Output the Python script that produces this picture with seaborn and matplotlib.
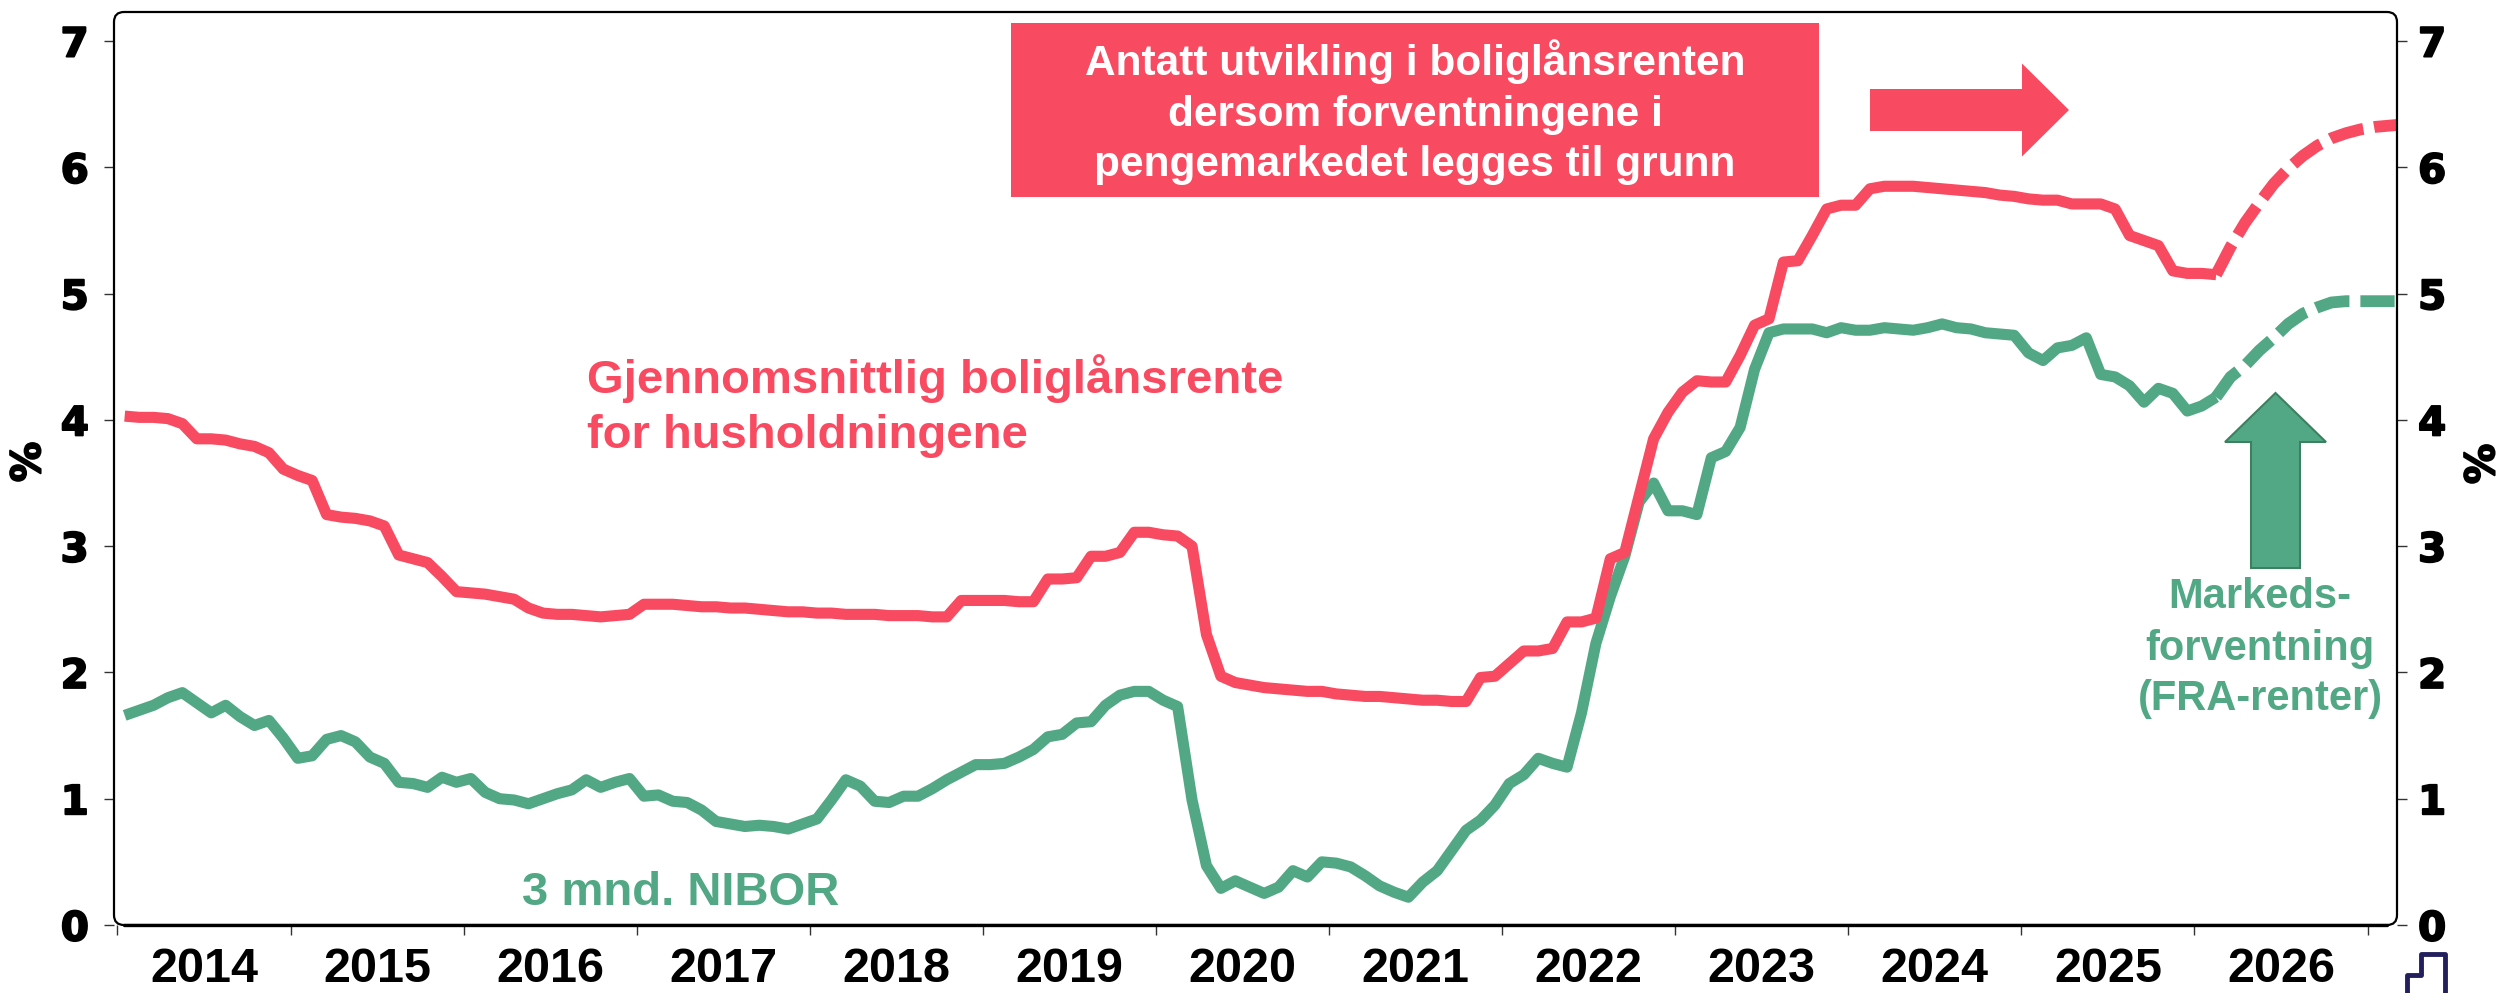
import numpy as np
import pandas as pd
import seaborn as sns
import matplotlib.pyplot as plt
import matplotlib.patheffects as pe
from matplotlib.patches import FancyArrow, FancyBboxPatch, Rectangle
from matplotlib.lines import Line2D

# Monthly observations, Jan 2014 - Feb 2026
boliglansrente = [
    4.03, 4.02, 4.02, 4.01, 3.97, 3.85, 3.85, 3.84, 3.81, 3.79, 3.74, 3.61,
    3.56, 3.52, 3.25, 3.23, 3.22, 3.20, 3.16, 2.93, 2.90, 2.87, 2.76, 2.64,
    2.63, 2.62, 2.60, 2.58, 2.51, 2.47, 2.46, 2.46, 2.45, 2.44, 2.45, 2.46,
    2.54, 2.54, 2.54, 2.53, 2.52, 2.52, 2.51, 2.51, 2.50, 2.49, 2.48, 2.48,
    2.47, 2.47, 2.46, 2.46, 2.46, 2.45, 2.45, 2.45, 2.44, 2.44, 2.57, 2.57,
    2.57, 2.57, 2.56, 2.56, 2.74, 2.74, 2.75, 2.92, 2.92, 2.95, 3.11, 3.11,
    3.09, 3.08, 3.00, 2.30, 1.97, 1.92, 1.90, 1.88, 1.87, 1.86, 1.85, 1.85,
    1.83, 1.82, 1.81, 1.81, 1.80, 1.79, 1.78, 1.78, 1.77, 1.77, 1.96, 1.97,
    2.07, 2.17, 2.17, 2.19, 2.40, 2.40, 2.43, 2.90, 2.95, 3.40, 3.85, 4.06,
    4.22, 4.31, 4.30, 4.30, 4.51, 4.75, 4.80, 5.25, 5.26, 5.46, 5.67, 5.70,
    5.70, 5.83, 5.85, 5.85, 5.85, 5.84, 5.83, 5.82, 5.81, 5.80, 5.78, 5.77,
    5.75, 5.74, 5.74, 5.71, 5.71, 5.71, 5.67, 5.46, 5.42, 5.38, 5.18, 5.16,
    5.16, 5.15,
]
nibor_3m = [
    1.66, 1.70, 1.74, 1.80, 1.84, 1.76, 1.68, 1.74, 1.65, 1.58, 1.62, 1.48,
    1.32, 1.34, 1.47, 1.50, 1.45, 1.33, 1.28, 1.13, 1.12, 1.09, 1.17, 1.13,
    1.16, 1.05, 1.00, 0.99, 0.96, 1.00, 1.04, 1.07, 1.15, 1.09, 1.13, 1.16,
    1.02, 1.03, 0.98, 0.97, 0.91, 0.82, 0.80, 0.78, 0.79, 0.78, 0.76, 0.80,
    0.84, 0.99, 1.15, 1.10, 0.98, 0.97, 1.02, 1.02, 1.08, 1.15, 1.21, 1.27,
    1.27, 1.28, 1.33, 1.39, 1.49, 1.51, 1.60, 1.61, 1.74, 1.82, 1.85, 1.85,
    1.78, 1.73, 0.99, 0.47, 0.29, 0.35, 0.30, 0.25, 0.30, 0.43, 0.38, 0.50,
    0.49, 0.46, 0.39, 0.31, 0.26, 0.22, 0.34, 0.43, 0.59, 0.75, 0.83, 0.95,
    1.12, 1.19, 1.32, 1.28, 1.25, 1.68, 2.23, 2.60, 2.92, 3.35, 3.50, 3.28,
    3.28, 3.25, 3.70, 3.75, 3.94, 4.40, 4.69, 4.72, 4.72, 4.72, 4.69, 4.73,
    4.71, 4.71, 4.73, 4.72, 4.71, 4.73, 4.76, 4.73, 4.72, 4.69, 4.68, 4.67,
    4.53, 4.47, 4.57, 4.59, 4.65, 4.36, 4.34, 4.27, 4.14, 4.25, 4.21, 4.07,
    4.11, 4.18,
]

# Market-implied paths (FRA), from Feb 2026
boliglansrente_fc = [5.15, 5.37, 5.56, 5.72, 5.87, 5.99, 6.09, 6.17, 6.23, 6.27, 6.30, 6.32, 6.33, 6.34]
nibor_fc = [4.18, 4.34, 4.43, 4.55, 4.65, 4.76, 4.84, 4.89, 4.93, 4.94, 4.94, 4.94, 4.94, 4.94]

years = list(range(2014, 2028))
year_labels = [str(y) for y in years[:-1]]

RED = "#F84A60"
GREEN = "#52A885"


def month_pos(start, n):
    # monthly values are placed mid-month on a decimal-year axis
    d = pd.date_range(start, periods=n, freq="MS")
    return d.year + (d.month - 0.5) / 12


hist = pd.DataFrame({"x": month_pos("2014-01-01", len(boliglansrente)),
                     "rente": boliglansrente, "nibor": nibor_3m})
fc = pd.DataFrame({"x": month_pos("2026-02-01", len(boliglansrente_fc)),
                   "rente": boliglansrente_fc, "nibor": nibor_fc})

sns.set_theme(style="white")
plt.rcParams["font.family"] = ["Liberation Sans", "DejaVu Sans"]
plt.rcParams["text.color"] = "black"
plt.rcParams["xtick.color"] = "black"
plt.rcParams["ytick.color"] = "black"

W, H = 2499, 993
L, R, T, B = 114, 2397, 12, 925
fig = plt.figure(figsize=(W / 100, H / 100), dpi=100)
ax = fig.add_axes([L / W, 1 - B / H, (R - L) / W, (B - T) / H])
inch = fig.dpi_scale_trans
heavy = [pe.withStroke(linewidth=1.4, foreground="black")]


def px(x, y):
    return x / 100, (H - y) / 100


# lines
sns.lineplot(data=hist, x="x", y="nibor", ax=ax, color=GREEN, linewidth=8,
             estimator=None, sort=False, solid_capstyle="butt")
sns.lineplot(data=hist, x="x", y="rente", ax=ax, color=RED, linewidth=8,
             estimator=None, sort=False, solid_capstyle="butt")
sns.lineplot(data=fc, x="x", y="nibor", ax=ax, color=GREEN, linewidth=8.5,
             estimator=None, sort=False, linestyle=(0, (2.9, 0.93)), dash_capstyle="butt")
sns.lineplot(data=fc, x="x", y="rente", ax=ax, color=RED, linewidth=8.5,
             estimator=None, sort=False, linestyle=(0, (2.9, 0.93)), dash_capstyle="butt")

ax.set_xlim(2013.98, 2027.17)
ax.set_ylim(0, 7.23)
ax.set_xlabel("")
ax.set_ylabel("")
for s in ax.spines.values():
    s.set_visible(False)

# x axis: ticks at year boundaries, labels mid-year
ax.set_xticks(years)
ax.set_xticklabels([])
ax.set_xticks([y + 0.5 for y in years[:-1]], minor=True)
ax.set_xticklabels(year_labels, minor=True, fontsize=35, fontweight="bold")
ax.tick_params(axis="x", which="major", bottom=True, direction="out",
               length=7.2, width=1, color="#333333")
ax.tick_params(axis="x", which="minor", bottom=True, length=0, pad=16, labelcolor="black")

ax.set_yticks(range(8))
ax.set_yticklabels([str(v) for v in range(8)], fontsize=29, fontweight="bold",
                   fontfamily="DejaVu Sans", path_effects=heavy)
ax.tick_params(axis="y", left=True, direction="out", length=7.2, width=1,
               color="#333333", pad=11, labelcolor="black")

ax2 = ax.twinx()
ax2.set_ylim(ax.get_ylim())
ax2.set_yticks(range(8))
ax2.set_yticklabels([str(v) for v in range(8)], fontsize=29, fontweight="bold",
                    fontfamily="DejaVu Sans", path_effects=heavy)
ax2.tick_params(axis="y", right=True, direction="out", length=7.2, width=1,
                color="#333333", pad=8, labelcolor="black")
for s in ax2.spines.values():
    s.set_visible(False)

# rounded plot frame
fig.add_artist(FancyBboxPatch(px(L, B), (R - L) / 100, (B - T) / 100,
                              boxstyle="round,pad=0,rounding_size=0.1",
                              transform=inch, fill=False, lw=1.6, ec="black", zorder=5))
fig.add_artist(Line2D([(L + 10) / 100, (R - 10) / 100], [(H - B) / 100] * 2,
                      transform=inch, color="black", lw=2.4, zorder=5))

fig.text(*px(29, 462), "%", transform=inch, rotation=90, ha="center", va="center",
         fontsize=29, fontweight="bold", family="DejaVu Sans", color="black",
         path_effects=heavy)
fig.text(*px(2483, 464), "%", transform=inch, rotation=90, ha="center", va="center",
         fontsize=29, fontweight="bold", family="DejaVu Sans", color="black",
         path_effects=heavy)

# forecast box + arrow
fig.add_artist(Rectangle(px(1011, 197), 8.08, 1.74, transform=inch, color=RED, lw=0))
for txt, yb in [("Antatt utvikling i boliglånsrenten", 75),
                ("dersom forventningene i", 126),
                ("pengemarkedet legges til grunn", 176)]:
    fig.text(*px(1415, yb), txt, transform=inch, ha="center", va="baseline",
             color="white", fontsize=30.5, fontweight="bold")

fig.add_artist(FancyArrow(*px(1870, 110), 1.99, 0, width=0.42, head_width=0.93,
                          head_length=0.47, length_includes_head=True,
                          transform=inch, color=RED, lw=0))
fig.add_artist(FancyArrow(*px(2275.5, 568), 0, 1.75, width=0.49, head_width=1.01,
                          head_length=0.49, length_includes_head=True,
                          transform=inch, fc=GREEN, ec="#3D8060", lw=1.5))

# series labels
for txt, yb in [("Gjennomsnittlig boliglånsrente", 393), ("for husholdningene", 448)]:
    fig.text(*px(587, yb), txt, transform=inch, ha="left", va="baseline",
             color=RED, fontsize=34, fontweight="bold")
fig.text(*px(522, 905), "3 mnd. NIBOR", transform=inch, ha="left", va="baseline",
         color=GREEN, fontsize=34, fontweight="bold")
for txt, yb in [("Markeds-", 608), ("forventning", 660), ("(FRA-renter)", 710)]:
    fig.text(*px(2260, yb), txt, transform=inch, ha="center", va="baseline",
             color=GREEN, fontsize=30, fontweight="bold")

# small logo mark in the corner
lx = [2406.6, 2406.6, 2421, 2421, 2445, 2445]
ly = [995, 975, 975, 954, 954, 995]
fig.add_artist(Line2D([x / 100 for x in lx], [(H - y) / 100 for y in ly],
                      transform=inch, color="#231F5C", lw=3.5))

fig.savefig("out.png", dpi=100)
